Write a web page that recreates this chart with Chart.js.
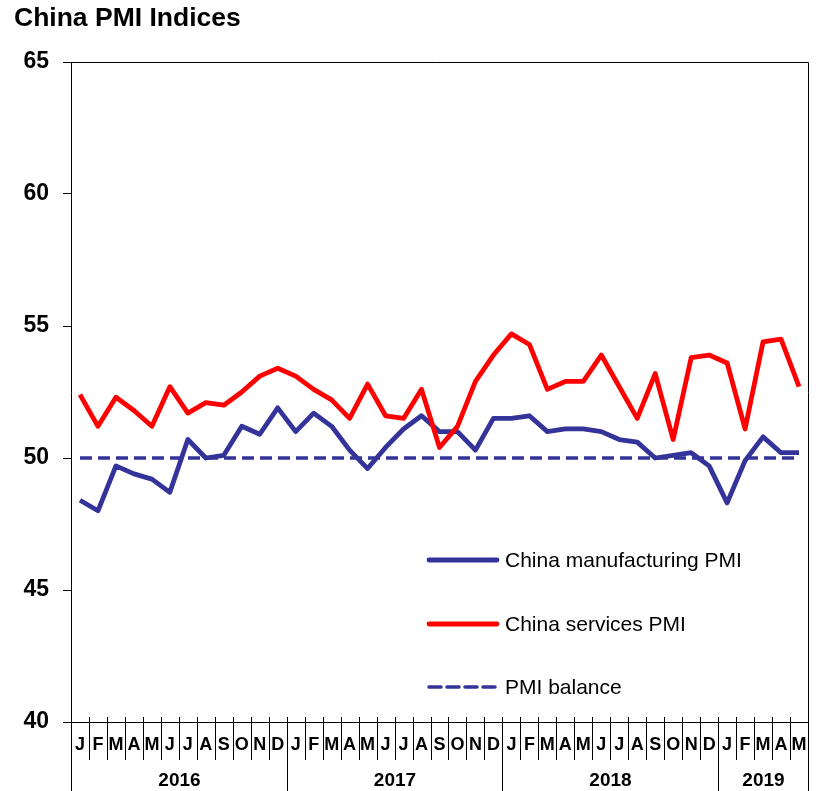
<!DOCTYPE html>
<html>
<head>
<meta charset="utf-8">
<title>China PMI Indices</title>
<script src="https://cdn.jsdelivr.net/npm/chart.js@4"></script>
<style>
  html, body { margin: 0; padding: 0; background: #fff; }
  #wrap { position: relative; width: 817px; height: 791px; }
</style>
</head>
<body>
<div id="wrap"><canvas id="pmiChart" width="817" height="791"></canvas></div>
<script>
// month letters, Jan 2016 .. May 2019
const months = [
  'J','F','M','A','M','J','J','A','S','O','N','D',
  'J','F','M','A','M','J','J','A','S','O','N','D',
  'J','F','M','A','M','J','J','A','S','O','N','D',
  'J','F','M','A','M'
];
const years = ['2016', '2017', '2018', '2019'];
const monthsPerYear = [12, 12, 12, 5];

const manufacturing = [
  48.4, 48.0, 49.7, 49.4, 49.2, 48.7, 50.7, 50.0, 50.1, 51.2, 50.9, 51.9,
  51.0, 51.7, 51.2, 50.3, 49.6, 50.4, 51.1, 51.6, 51.0, 51.0, 50.3, 51.5,
  51.5, 51.6, 51.0, 51.1, 51.1, 51.0, 50.7, 50.6, 50.0, 50.1, 50.2, 49.7,
  48.3, 49.9, 50.8, 50.2, 50.2
];
const services = [
  52.4, 51.2, 52.3, 51.8, 51.2, 52.7, 51.7, 52.1, 52.0, 52.5, 53.1, 53.4,
  53.1, 52.6, 52.2, 51.5, 52.8, 51.6, 51.5, 52.6, 50.4, 51.2, 52.9, 53.9,
  54.7, 54.3, 52.6, 52.9, 52.9, 53.9, 52.7, 51.5, 53.2, 50.7, 53.8, 53.9,
  53.6, 51.1, 54.4, 54.5, 52.7
];
const balance = [
  50, 50, 50, 50, 50, 50, 50, 50, 50, 50, 50, 50,
  50, 50, 50, 50, 50, 50, 50, 50, 50, 50, 50, 50,
  50, 50, 50, 50, 50, 50, 50, 50, 50, 50, 50, 50,
  50, 50, 50, 50, 50
];
const yTicks = [40, 45, 50, 55, 60, 65];

const NAVY = '#333399';
const RED = '#ff0000';
const FONT = 'Arial, "Liberation Sans", sans-serif';

// title, frame, month/year axis and in-plot legend
const decorations = {
  id: 'decorations',
  afterDraw(chart) {
    const ctx = chart.ctx;
    const area = chart.chartArea;
    const xs = chart.scales.x;
    const step = xs.getPixelForValue(1) - xs.getPixelForValue(0);
    ctx.save();

    // title
    ctx.fillStyle = '#000';
    ctx.font = 'bold 26.5px ' + FONT;
    ctx.textAlign = 'left';
    ctx.textBaseline = 'middle';
    ctx.fillText('China PMI Indices', 14, 19);

    // top, right and bottom frame
    ctx.strokeStyle = '#000';
    ctx.lineWidth = 1;
    ctx.beginPath();
    ctx.moveTo(area.left - 8, area.top + 0.5);
    ctx.lineTo(area.right + 0.5, area.top + 0.5);
    ctx.lineTo(area.right + 0.5, area.bottom + 0.5);
    ctx.moveTo(area.left - 8, area.bottom + 0.5);
    ctx.lineTo(area.right + 0.5, area.bottom + 0.5);
    ctx.stroke();

    // month dividers and letters
    ctx.font = 'bold 18px ' + FONT;
    ctx.textAlign = 'center';
    ctx.beginPath();
    months.forEach((m, i) => {
      const cx = xs.getPixelForValue(i);
      const edge = Math.round(cx - step / 2) + 0.5;
      ctx.moveTo(edge, area.bottom - 5);
      ctx.lineTo(edge, area.bottom + 38);
      ctx.fillText(m, cx, area.bottom + 23);
    });
    ctx.stroke();

    // year groups
    ctx.font = 'bold 19px ' + FONT;
    let start = 0;
    ctx.beginPath();
    years.forEach((y, k) => {
      const end = start + monthsPerYear[k] - 1;
      const x0 = Math.round(xs.getPixelForValue(start) - step / 2) + 0.5;
      const x1 = Math.round(xs.getPixelForValue(end) + step / 2) + 0.5;
      ctx.moveTo(x0, area.bottom);
      ctx.lineTo(x0, chart.height);
      ctx.moveTo(x1, area.bottom);
      ctx.lineTo(x1, chart.height);
      ctx.fillText(y, (x0 + x1) / 2, area.bottom + 59);
      start = end + 1;
    });
    ctx.stroke();

    // legend
    const rows = [
      { ds: chart.data.datasets[1], y: 560 },
      { ds: chart.data.datasets[0], y: 624 },
      { ds: chart.data.datasets[2], y: 687 }
    ];
    ctx.font = '21px ' + FONT;
    ctx.textAlign = 'left';
    rows.forEach(r => {
      ctx.strokeStyle = r.ds.borderColor;
      ctx.lineWidth = r.ds.borderWidth;
      ctx.setLineDash(r.ds.borderDash || []);
      ctx.lineCap = 'round';
      ctx.beginPath();
      ctx.moveTo(429, r.y);
      ctx.lineTo(497, r.y);
      ctx.stroke();
      ctx.setLineDash([]);
      ctx.fillStyle = '#000';
      ctx.fillText(r.ds.label, 505, r.y + 1);
    });
    ctx.restore();
  }
};

new Chart(document.getElementById('pmiChart'), {
  type: 'line',
  data: {
    labels: months,
    datasets: [
      { label: 'China services PMI', data: services, borderColor: RED, borderWidth: 4.8 },
      { label: 'China manufacturing PMI', data: manufacturing, borderColor: NAVY, borderWidth: 4.8 },
      { label: 'PMI balance', data: balance, borderColor: NAVY, borderWidth: 3.5, borderDash: [12, 6] }
    ]
  },
  options: {
    responsive: false,
    animation: false,
    layout: { padding: { top: 62, right: 9, bottom: 69, left: 0 } },
    elements: {
      point: { radius: 0 },
      line: { tension: 0, fill: false, borderJoinStyle: 'round' }
    },
    plugins: {
      legend: { display: false },
      tooltip: { enabled: false }
    },
    scales: {
      x: {
        display: false,
        offset: true
      },
      y: {
        min: 40,
        max: 65,
        afterBuildTicks(scale) { scale.ticks = yTicks.map(v => ({ value: v })); },
        afterFit(scale) { scale.width = 71; },
        ticks: {
          color: '#000',
          padding: 14,
          font: { family: FONT, size: 23, weight: 'bold' }
        },
        grid: { drawOnChartArea: false, tickLength: 8, color: '#000' },
        border: { color: '#000' }
      }
    }
  },
  plugins: [decorations]
});
</script>
</body>
</html>
